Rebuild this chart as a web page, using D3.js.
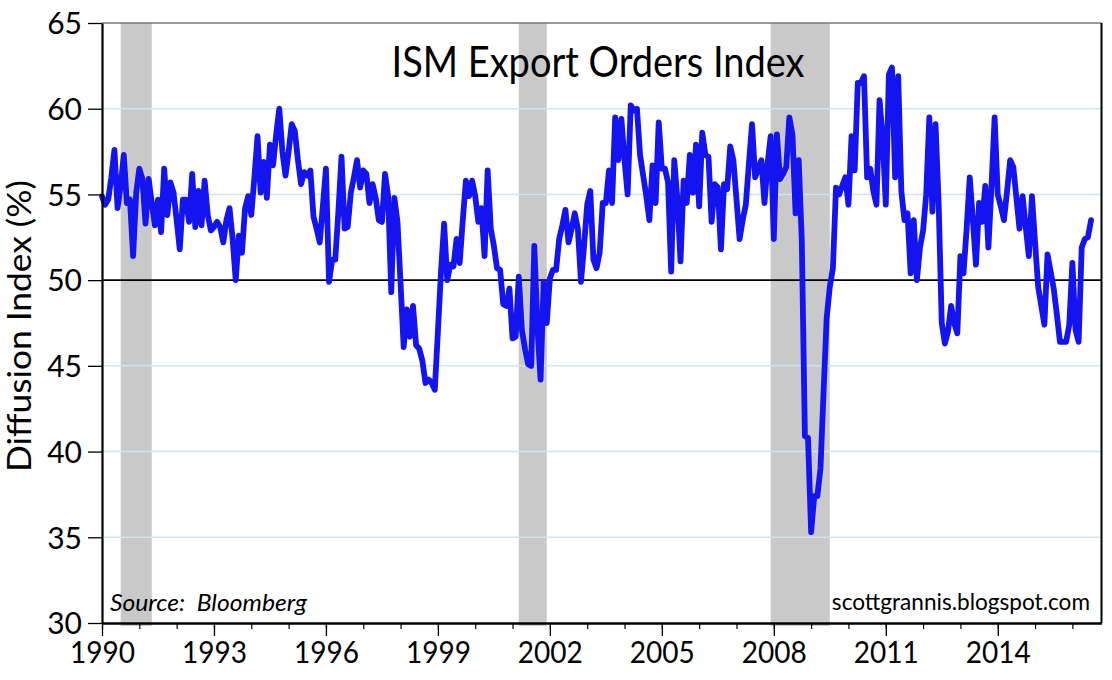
<!DOCTYPE html>
<html>
<head>
<meta charset="utf-8">
<script src="https://cdn.jsdelivr.net/npm/d3@7"></script>
<style>
  html, body { margin: 0; padding: 0; background: #fff; }
  svg { display: block; }
  text { font-family: Lato, "Open Sans", sans-serif; fill: #000; }
</style>
</head>
<body>
<svg id="chart" width="1112" height="680"></svg>
<script>
// ---------------- DATA ----------------
const startYear = 1990; // monthly series beginning January 1990
const values1990 = [54.9, 54.4, 54.7, 56.0, 57.6, 54.2, 55.5, 57.3, 54.5, 54.7, 51.4, 55.1];
const values1991 = [56.5, 55.9, 53.3, 55.9, 54.5, 53.2, 54.7, 52.8, 56.5, 53.8, 55.7, 55.1];
const values1992 = [53.5, 51.8, 54.7, 54.7, 53.4, 56.2, 53.1, 55.2, 53.2, 55.8, 53.8, 52.9];
const values1993 = [53.1, 53.4, 53.1, 52.2, 53.5, 54.2, 52.4, 50.0, 52.6, 51.6, 54.2, 54.9];
const values1994 = [53.8, 56.0, 58.4, 55.1, 56.9, 54.8, 57.9, 56.7, 58.5, 60.0, 57.5, 56.1];
const values1995 = [57.5, 59.1, 58.7, 57.0, 55.6, 56.3, 56.1, 56.4, 53.7, 53.0, 52.2, 54.3];
const values1996 = [56.5, 49.9, 51.2, 51.2, 54.0, 57.2, 53.0, 53.1, 55.1, 56.0, 57.0, 55.4];
const values1997 = [56.4, 56.2, 54.5, 55.6, 54.8, 53.5, 53.4, 56.2, 54.9, 49.3, 54.8, 53.4];
const values1998 = [49.8, 46.1, 48.3, 46.7, 48.5, 46.2, 46.0, 45.3, 44.0, 44.2, 44.0, 43.6];
const values1999 = [47.0, 50.5, 53.3, 50.0, 50.9, 50.8, 52.4, 51.0, 53.5, 55.8, 54.9, 55.8];
const values2000 = [54.9, 53.4, 54.2, 51.4, 56.4, 53.0, 52.0, 50.7, 50.6, 48.6, 48.5, 49.5];
const values2001 = [46.6, 46.7, 50.2, 47.1, 46.0, 45.1, 45.0, 52.0, 47.3, 44.2, 49.9, 47.5];
const values2002 = [50.1, 50.6, 50.6, 52.4, 53.2, 54.1, 52.2, 53.0, 53.9, 53.0, 49.9, 52.0];
const values2003 = [54.4, 55.2, 51.2, 50.7, 51.6, 54.5, 54.5, 56.4, 54.5, 59.5, 57.0, 59.4];
const values2004 = [57.0, 55.0, 60.2, 59.9, 60.0, 57.3, 56.1, 54.9, 53.5, 56.7, 54.5, 59.2];
const values2005 = [56.5, 56.5, 55.7, 50.5, 57.0, 54.7, 51.1, 55.8, 54.5, 57.3, 55.1, 57.9];
const values2006 = [54.3, 58.6, 57.3, 57.2, 53.4, 55.6, 55.4, 51.8, 55.6, 55.3, 57.8, 57.0];
const values2007 = [54.7, 52.4, 53.5, 54.4, 56.8, 59.1, 56.0, 56.5, 57.0, 54.5, 56.8, 58.4];
const values2008 = [52.4, 58.5, 55.9, 56.2, 56.6, 59.5, 58.5, 53.9, 57.0, 52.3, 40.9, 40.8];
const values2009 = [35.3, 37.4, 37.4, 39.0, 43.5, 47.8, 49.6, 50.7, 55.4, 55.0, 55.5, 56.0];
const values2010 = [54.4, 58.4, 56.4, 61.5, 61.5, 61.9, 56.0, 56.5, 55.2, 54.4, 60.5, 58.3];
const values2011 = [54.4, 62.0, 62.4, 56.0, 61.9, 55.2, 53.5, 53.9, 50.4, 53.5, 50.0, 51.9];
const values2012 = [52.9, 55.0, 59.5, 54.0, 59.1, 54.5, 47.5, 46.3, 47.0, 48.5, 47.5, 46.9];
const values2013 = [51.4, 50.4, 53.0, 56.0, 53.5, 50.9, 54.5, 53.4, 55.5, 51.9, 55.5, 59.5];
const values2014 = [55.0, 54.3, 53.5, 55.2, 57.0, 56.6, 54.8, 53.0, 54.9, 53.1, 51.4, 54.9];
const values2015 = [52.2, 49.6, 48.5, 47.4, 51.5, 50.5, 49.5, 48.0, 46.4, 46.4, 46.4, 47.4];
const values2016 = [51.0, 47.1, 46.4, 51.9, 52.4, 52.5, 53.5];

// Recessions (decimal years: start of first month, end of last month)
const recessionStarts = [1990 + 6/12, 2001 + 2/12, 2007 + 11/12];
const recessionEnds   = [1991 + 4/12, 2001 + 11/12, 2009 + 6/12];

const yTickValues = [30, 35, 40, 45, 50, 55, 60, 65];
const gridValues = [35, 40, 45, 55, 60];
const xMajorTicks = [1990, 1993, 1996, 1999, 2002, 2005, 2008, 2011, 2014];
const xMinorTicks = d3.range(1990, 2017);

const titleText = "ISM Export Orders Index";
const yAxisTitle = "Diffusion Index (%)";
const sourceText = "Source:  Bloomberg";
const creditText = "scottgrannis.blogspot.com";

// ---------------- BUILD ----------------
(function () {
const monthly = [].concat(values1990, values1991, values1992, values1993, values1994,
  values1995, values1996, values1997, values1998, values1999, values2000, values2001,
  values2002, values2003, values2004, values2005, values2006, values2007, values2008,
  values2009, values2010, values2011, values2012, values2013, values2014, values2015,
  values2016);
const series = monthly.map((v, i) => ({ t: startYear + i / 12, v }));

const svg = d3.select("#chart");
const pLeft = 102, pRight = 1101.5, pTop = 23, pBottom = 623;

const x = d3.scaleLinear().domain([1990, 2016.78]).range([pLeft, pRight]);
const y = d3.scaleLinear().domain([30, 65]).range([pBottom, pTop]);

// recession shading
svg.append("g").selectAll("rect")
  .data(recessionStarts.map((s, i) => [s, recessionEnds[i]]))
  .join("rect")
  .attr("x", d => x(d[0]))
  .attr("width", d => x(d[1]) - x(d[0]))
  .attr("y", pTop)
  .attr("height", pBottom - pTop + 3)
  .attr("fill", "#c9c9c9");

// grid lines
svg.append("g").selectAll("line")
  .data(gridValues)
  .join("line")
  .attr("x1", pLeft).attr("x2", pRight)
  .attr("y1", d => y(d)).attr("y2", d => y(d))
  .attr("stroke", "#cfe6ef").attr("stroke-width", 1.5);

// 50 line
svg.append("line")
  .attr("x1", pLeft).attr("x2", pRight)
  .attr("y1", y(50)).attr("y2", y(50))
  .attr("stroke", "#000").attr("stroke-width", 1.6);

// frame top & right
svg.append("line").attr("x1", pLeft).attr("x2", pRight).attr("y1", pTop).attr("y2", pTop)
  .attr("stroke", "#777").attr("stroke-width", 1.5);
svg.append("line").attr("x1", pRight).attr("x2", pRight).attr("y1", pTop).attr("y2", pBottom)
  .attr("stroke", "#000").attr("stroke-width", 2);

// title
svg.append("text")
  .attr("x", 598).attr("y", 77)
  .attr("text-anchor", "middle")
  .attr("font-size", 42)
  .attr("textLength", 413).attr("lengthAdjust", "spacingAndGlyphs")
  .text(titleText);

// data line
const line = d3.line().x(d => x(d.t)).y(d => y(d.v));
svg.append("path")
  .datum(series)
  .attr("d", line)
  .attr("fill", "none")
  .attr("stroke", "#1414f0")
  .attr("stroke-width", 5.8)
  .attr("stroke-linejoin", "round")
  .attr("stroke-linecap", "round");

// y axis
const yAxis = svg.append("g")
  .attr("transform", `translate(${pLeft},0)`)
  .call(d3.axisLeft(y).tickValues(yTickValues).tickSize(14).tickPadding(6).tickSizeOuter(0));
yAxis.select(".domain").attr("stroke-width", 2.2);
yAxis.selectAll(".tick line").attr("stroke-width", 1.3);
yAxis.selectAll("text").attr("font-size", 30).attr("font-family", "Lato, sans-serif")
  .attr("dy", "0.36em");

// x axis minor
svg.append("g")
  .attr("transform", `translate(0,${pBottom})`)
  .call(d3.axisBottom(x).tickValues(xMinorTicks).tickSize(6).tickFormat("").tickSizeOuter(0))
  .call(g => g.select(".domain").remove())
  .selectAll(".tick line").attr("stroke-width", 1.2);

// x axis major
const xAxis = svg.append("g")
  .attr("transform", `translate(0,${pBottom})`)
  .call(d3.axisBottom(x).tickValues(xMajorTicks).tickSize(13).tickPadding(6)
    .tickFormat(d3.format("d")).tickSizeOuter(0));
xAxis.select(".domain").attr("stroke-width", 2.4);
xAxis.selectAll(".tick line").attr("stroke-width", 1.3);
xAxis.selectAll("text").attr("font-size", 30).attr("font-family", "Lato, sans-serif")
  .attr("textLength", 65).attr("lengthAdjust", "spacingAndGlyphs");

// y axis title
svg.append("text")
  .attr("transform", "translate(31,326) rotate(-90)")
  .attr("text-anchor", "middle")
  .attr("font-size", 32)
  .attr("textLength", 292).attr("lengthAdjust", "spacingAndGlyphs")
  .text(yAxisTitle);

// source
svg.append("text")
  .attr("x", 110).attr("y", 611)
  .attr("font-size", 24)
  .attr("font-style", "italic")
  .style("white-space", "pre")
  .attr("textLength", 197).attr("lengthAdjust", "spacingAndGlyphs")
  .text(sourceText);

// credit
svg.append("text")
  .attr("x", 1090).attr("y", 610)
  .attr("text-anchor", "end")
  .attr("font-size", 22.6)
  .text(creditText);
})();
</script>
</body>
</html>
